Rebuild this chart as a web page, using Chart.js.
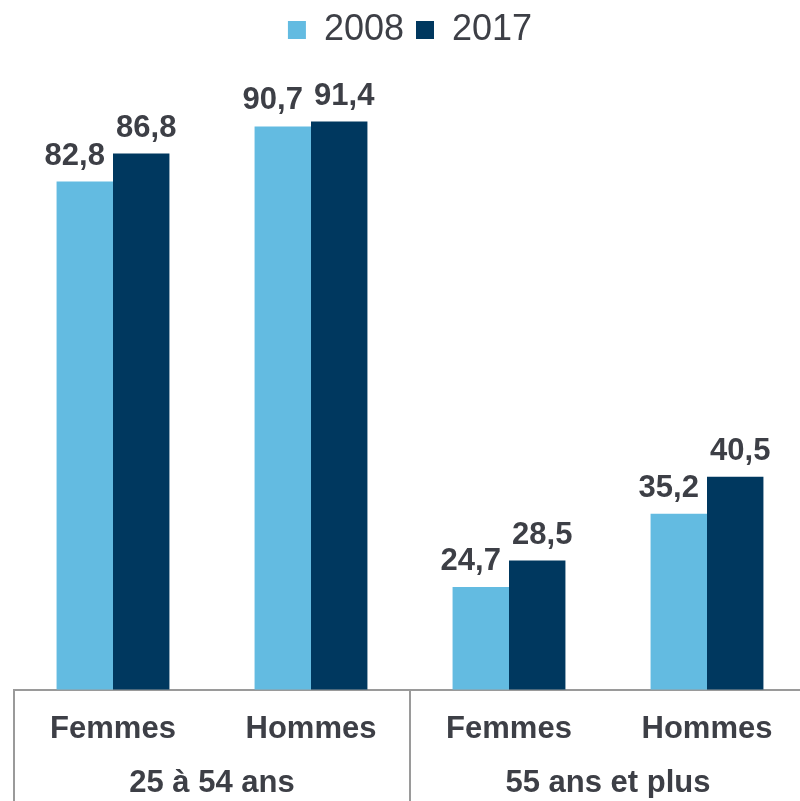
<!DOCTYPE html>
<html>
<head>
<meta charset="utf-8">
<script src="https://cdn.jsdelivr.net/npm/chart.js@4/dist/chart.umd.min.js"></script>
<style>
  html, body { margin: 0; padding: 0; background: #fff; overflow: hidden; }
  #wrap { width: 808px; height: 801px; position: relative; }
</style>
</head>
<body>
<div id="wrap"><canvas id="chart"></canvas></div>
<script>
// ===== DATA =====
const categories = ['Femmes', 'Hommes', 'Femmes', 'Hommes'];
const groups = ['25 à 54 ans', '55 ans et plus'];
const seriesNames = ['2008', '2017'];
const values2008 = [82.8, 90.7, 24.7, 35.2];
const values2017 = [86.8, 91.4, 28.5, 40.5];

// ===== STYLE =====
const LIGHT = '#63bbe1';
const DARK = '#00385f';
const TEXT = '#3d3f46';
const LINE = '#9a9a9a';
const FONT = "'Liberation Sans', Arial, sans-serif";

// value labels above bars
const barLabels = {
  id: 'barLabels',
  afterDatasetsDraw(chart) {
    const ctx = chart.ctx;
    const shift = [-10, 5];
    ctx.save();
    ctx.font = 'bold 31px ' + FONT;
    ctx.fillStyle = TEXT;
    ctx.textAlign = 'center';
    ctx.textBaseline = 'bottom';
    chart.data.datasets.forEach((ds, di) => {
      chart.getDatasetMeta(di).data.forEach((bar, i) => {
        const txt = ds.data[i].toFixed(1).replace('.', ',');
        ctx.fillText(txt, bar.x + shift[di], bar.y - 10);
      });
    });
    ctx.restore();
  }
};

// vertical separators between the age groups, below the axis line
const groupLines = {
  id: 'groupLines',
  afterDraw(chart) {
    const g = chart.scales.x2;
    const ctx = chart.ctx;
    const step = g.getPixelForValue(1) - g.getPixelForValue(0);
    ctx.save();
    ctx.strokeStyle = LINE;
    ctx.lineWidth = 2;
    for (let i = 0; i <= groups.length; i++) {
      const px = Math.round(g.getPixelForValue(0) - step / 2 + i * step);
      ctx.beginPath();
      ctx.moveTo(px, chart.chartArea.bottom);
      ctx.lineTo(px, chart.height);
      ctx.stroke();
    }
    ctx.restore();
  }
};

new Chart(document.getElementById('chart'), {
  type: 'bar',
  data: {
    labels: categories,
    datasets: [
      { label: seriesNames[0], data: values2008, backgroundColor: LIGHT, xAxisID: 'x' },
      { label: seriesNames[1], data: values2017, backgroundColor: DARK, xAxisID: 'x' }
    ]
  },
  options: {
    responsive: true,
    maintainAspectRatio: false,
    animation: false,
    categoryPercentage: 0.57,
    barPercentage: 1,
    layout: { padding: { left: 14, right: 2, top: 0, bottom: 3 } },
    plugins: {
      legend: {
        position: 'top',
        labels: {
          color: TEXT,
          font: { size: 36, family: FONT },
          boxWidth: 18,
          boxHeight: 18,
          padding: 12
        }
      },
      tooltip: { enabled: false }
    },
    scales: {
      x: {
        grid: { display: false, drawTicks: false },
        border: { display: true, color: LINE, width: 2 },
        ticks: { color: TEXT, font: { size: 31, weight: 'bold', family: FONT }, padding: 21 }
      },
      x2: {
        type: 'category',
        labels: groups,
        position: 'bottom',
        offset: true,
        grid: { display: false, drawTicks: false },
        border: { display: false },
        ticks: { color: TEXT, font: { size: 31, weight: 'bold', family: FONT }, padding: -4 }
      },
      y: {
        display: false,
        min: 10,
        max: 100.5
      }
    }
  },
  plugins: [barLabels, groupLines]
});
</script>
</body>
</html>
